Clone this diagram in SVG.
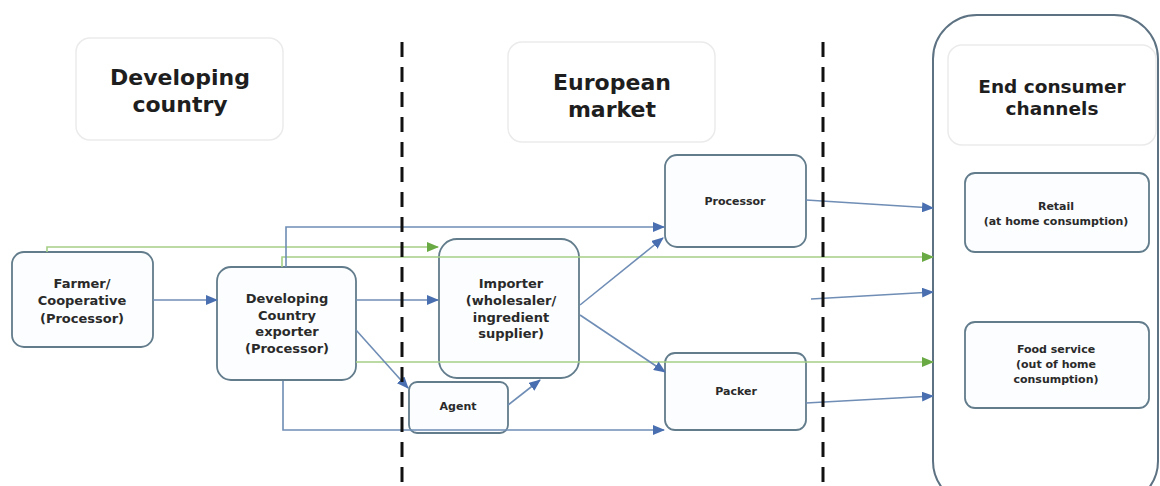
<svg xmlns="http://www.w3.org/2000/svg" width="1160" height="486" viewBox="0 0 1160 486">
<style>
.hdr{fill:#ffffff;stroke:#ebebeb;stroke-width:1.5}
.ht{font-family:"DejaVu Sans",Verdana,sans-serif;font-weight:bold;font-size:22px;fill:#1e1e1e;text-anchor:middle}
.node{fill:#fbfdfe;stroke:#627c8c;stroke-width:1.8}
.nt{font-family:"DejaVu Sans",Verdana,sans-serif;font-weight:bold;font-size:13px;fill:#2a2a2a;text-anchor:middle}
.st{font-family:"DejaVu Sans",Verdana,sans-serif;font-weight:bold;font-size:11px;fill:#2a2a2a;text-anchor:middle}
.blue{fill:none;stroke:#6f8db5;stroke-width:1.6;marker-end:url(#ab)}
.green{fill:none;stroke:#a6cf86;stroke-width:1.6;marker-end:url(#ag)}
.dash{stroke:#111;stroke-width:3;stroke-dasharray:15 10}
</style>
<defs>
<marker id="ab" markerUnits="userSpaceOnUse" markerWidth="12" markerHeight="10" refX="11" refY="5" orient="auto"><path d="M0,0 L12,5 L0,10 Z" fill="#4a6fb0"/></marker>
<marker id="ag" markerUnits="userSpaceOnUse" markerWidth="12" markerHeight="10" refX="11" refY="5" orient="auto"><path d="M0,0 L12,5 L0,10 Z" fill="#6aaa45"/></marker>
</defs>
<rect width="1160" height="486" fill="#ffffff"/>

<g id="hdr-developing"><rect class="hdr" x="76" y="38" width="207" height="102" rx="14"/><text class="ht" x="180" y="85">Developing</text><text class="ht" x="180" y="112">country</text></g>
<g id="hdr-european"><rect class="hdr" x="508" y="42" width="207" height="100" rx="14"/><text class="ht" x="612" y="90">European</text><text class="ht" x="612" y="117">market</text></g>

<g id="end-consumer-container"><rect x="933" y="15" width="225" height="490" rx="44" fill="#ffffff" stroke="#5d7282" stroke-width="2"/></g>
<g id="hdr-end"><rect class="hdr" x="948" y="45" width="208" height="100" rx="14"/><text class="ht" style="font-size:18.5px" x="1052" y="93">End consumer</text><text class="ht" style="font-size:18.5px" x="1052" y="115">channels</text></g>

<g id="farmer"><rect class="node" x="12" y="252" width="141" height="95" rx="12"/><text class="nt" x="82" y="288">Farmer/</text><text class="nt" x="82" y="305">Cooperative</text><text class="nt" x="82" y="323">(Processor)</text></g>
<g id="exporter"><rect class="node" x="217" y="267" width="139" height="113" rx="14"/><text class="nt" x="287" y="303">Developing</text><text class="nt" x="287" y="320">Country</text><text class="nt" x="287" y="336">exporter</text><text class="nt" x="287" y="353">(Processor)</text></g>
<g id="importer"><rect class="node" x="439" y="239" width="140" height="139" rx="18"/><text class="nt" x="511" y="288">Importer</text><text class="nt" x="511" y="305">(wholesaler/</text><text class="nt" x="511" y="322">ingredient</text><text class="nt" x="511" y="338">supplier)</text></g>
<g id="agent"><rect class="node" x="409" y="382" width="99" height="51" rx="8"/><text class="st" x="458" y="410">Agent</text></g>
<g id="processor"><rect class="node" x="665" y="155" width="141" height="92" rx="12"/><text class="st" x="735" y="205">Processor</text></g>
<g id="packer"><rect class="node" x="665" y="353" width="141" height="77" rx="10"/><text class="st" x="736" y="395">Packer</text></g>
<g id="retail"><rect class="node" x="965" y="173" width="184" height="79" rx="10"/><text class="st" x="1056" y="210">Retail</text><text class="st" x="1056" y="225">(at home consumption)</text></g>
<g id="foodservice"><rect class="node" x="965" y="322" width="184" height="86" rx="10"/><text class="st" x="1056" y="353">Food service</text><text class="st" x="1056" y="368">(out of home</text><text class="st" x="1056" y="383">consumption)</text></g>

<g id="connectors">
<path class="green" d="M47,252 V247 H438"/>
<path class="green" d="M282,267 V257 H933"/>
<path class="green" d="M356,362 H933"/>
<path class="blue" d="M286,267 V227 H664"/>
<path class="blue" d="M153,300 H217"/>
<path class="blue" d="M356,300 H438"/>
<path class="blue" d="M356,330 L408,388"/>
<path class="blue" d="M283,381 V430 H664"/>
<path class="blue" d="M508,405 L540,380"/>
<path class="blue" d="M580,305 L663,238"/>
<path class="blue" d="M580,315 L665,372"/>
<path class="blue" d="M806,200 L933,208"/>
<path class="blue" d="M811,299 L933,292"/>
<path class="blue" d="M806,403 L933,396"/>
</g>

<g id="dividers">
<line class="dash" x1="402" y1="42" x2="402" y2="482"/>
<line class="dash" x1="823" y1="42" x2="823" y2="482"/>
</g>
</svg>
